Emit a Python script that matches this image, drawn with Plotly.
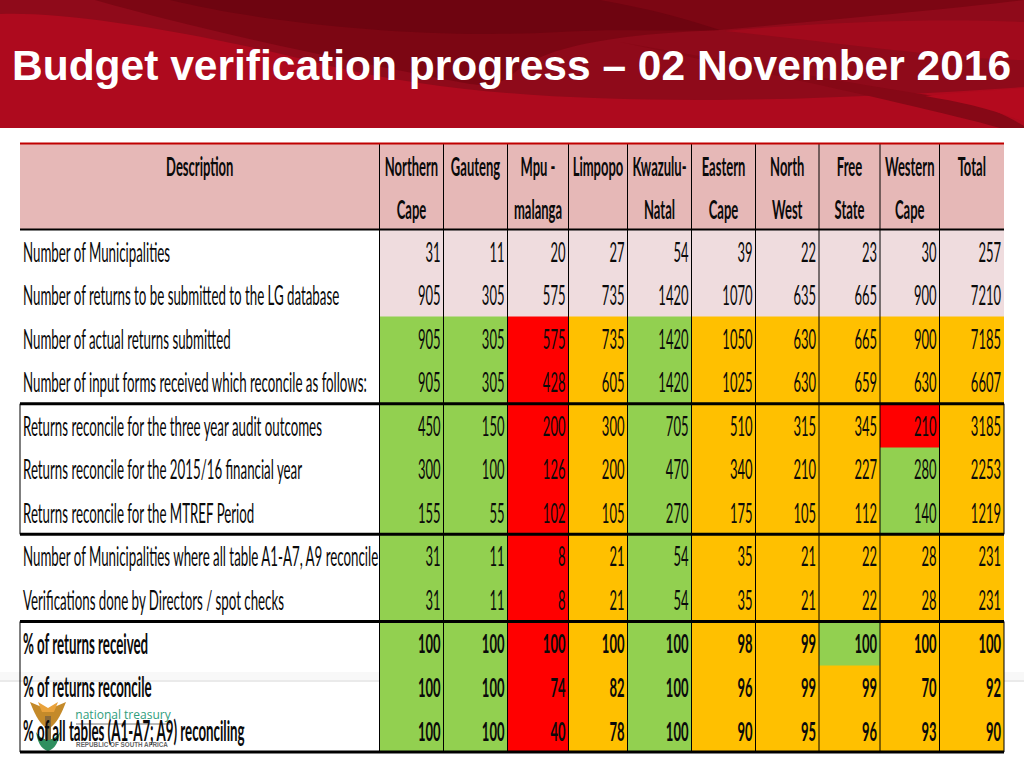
import plotly.graph_objects as go

# ---------- data ----------
title = "Budget verification progress – 02 November 2016"
header_top = ["Description", "Northern", "Gauteng", "Mpu -", "Limpopo", "Kwazulu-", "Eastern", "North", "Free", "Western", "Total"]
header_bottom = ["", "Cape", "", "malanga", "", "Natal", "Cape", "West", "State", "Cape", ""]
descriptions = [
    "Number of Municipalities",
    "Number of returns to be submitted to the LG database",
    "Number of actual returns submitted",
    "Number of input forms received which reconcile as follows:",
    "Returns reconcile for the three year audit outcomes",
    "Returns reconcile for the 2015/16 financial year",
    "Returns reconcile for the MTREF Period",
    "Number of Municipalities where all table A1-A7, A9 reconcile",
    "Verifications done by Directors / spot checks",
    "% of returns received",
    "% of returns reconcile",
    "% of all tables (A1-A7; A9) reconciling",
]
values = [
    [31, 11, 20, 27, 54, 39, 22, 23, 30, 257],
    [905, 305, 575, 735, 1420, 1070, 635, 665, 900, 7210],
    [905, 305, 575, 735, 1420, 1050, 630, 665, 900, 7185],
    [905, 305, 428, 605, 1420, 1025, 630, 659, 630, 6607],
    [450, 150, 200, 300, 705, 510, 315, 345, 210, 3185],
    [300, 100, 126, 200, 470, 340, 210, 227, 280, 2253],
    [155, 55, 102, 105, 270, 175, 105, 112, 140, 1219],
    [31, 11, 8, 21, 54, 35, 21, 22, 28, 231],
    [31, 11, 8, 21, 54, 35, 21, 22, 28, 231],
    [100, 100, 100, 100, 100, 98, 99, 100, 100, 100],
    [100, 100, 74, 82, 100, 96, 99, 99, 70, 92],
    [100, 100, 40, 78, 100, 90, 95, 96, 93, 90],
]
status = [
    "LLLLLLLLLL",
    "LLLLLLLLLL",
    "GGRAGAAAAA",
    "GGRAGAAAAA",
    "GGRAGAAARA",
    "GGRAGAAAGA",
    "GGRAGAAAGA",
    "GGRAGAAAAA",
    "GGRAGAAAAA",
    "GGRAGAAGAA",
    "GGRAGAAAAA",
    "GGRAGAAAAA",
]
bold_rows = [9, 10, 11]

# ---------- layout geometry ----------
W, H = 1024, 768
col_edges = [20, 379.5, 443.5, 507.5, 568.5, 627.5, 691.5, 755.5, 819, 880, 939.5, 1004]
table_top, header_bottom_y, row_h = 143.5, 229.5, 43.55
row_edges = [table_top, (table_top + header_bottom_y) / 2] + [header_bottom_y + i * row_h for i in range(13)]
FONT = "Lato"
BLACK = "#0a0a0a"

code = {"H": 0, "L": 1, "G": 2, "A": 3, "R": 4}
palette = ["#E6B8B7", "#EFDCDE", "#92D050", "#FFC000", "#FF0000"]
cscale = []
for i, c in enumerate(palette):
    cscale += [[i / 5, c], [(i + 1) / 5, c]]

z = [[code["H"]] * 11, [code["H"]] * 11]
for s in status:
    z.append([None] + [code[ch] for ch in s])

fig = go.Figure()

# ---------- slide decoration (under the table) ----------
shapes = []
def band(path, color):
    shapes.append(dict(type="path", path=path, fillcolor=color, line_width=0, layer="below"))

band(f"M0,0 L{W},0 L{W},128 L0,128 Z", "#AE0A1E")
band("M0,14 C60,11 190,30 330,66 C440,92 560,100 700,100 C800,100 920,94 1024,87 L1024,0 L0,0 Z", "#8F0A1A")
band("M95,0 C200,30 330,58 470,84 C540,92 470,40 720,30 C850,18 960,8 1024,0 Z", "#7C0613")
band("M170,0 C260,22 420,40 560,32 C620,28 660,32 720,30 C660,10 620,4 600,0 Z", "#6E0410")
band("M725,31 C820,22 940,18 1024,22 L1024,60 C960,60 830,42 725,31 Z", "#A10A1C")
band("M620,42 C720,60 860,85 960,100 C990,106 1010,118 1024,126 L1024,128 L1000,128 C930,108 760,72 620,42 Z", "#860816")
band("M925,96 C960,92 1000,90 1024,88 L1024,122 C990,108 960,102 925,96 Z", "#B40A1E")
band("M0,672 L1024,672 L1024,680 L0,680 Z", "#F8F8F8")
band("M0,680 L1024,680 L1024,682 L0,682 Z", "#EAEAEA")
# coat of arms of the logo
band("M30,702 C34,712 38,722 46,728 L50,714 L44,708 Z", "#C48A2A")
band("M66,702 C62,712 58,722 50,728 L46,714 L52,708 Z", "#C48A2A")
band("M38,702 L48,708 L58,702 L54,712 L42,712 Z", "#E9A23B")
band("M36,732 C38,746 44,750 48,751 C52,750 58,746 60,732 C54,742 42,742 36,732 Z", "#2F8F5F")
band("M45,716 L51,716 L51,740 L45,740 Z", "#8A6A3A")
shapes.append(dict(type="line", x0=76, x1=170, y0=724, y1=724, line=dict(color="#777777", width=1), layer="below"))

fig.add_trace(go.Heatmap(
    z=z, x=col_edges, y=row_edges, zmin=0, zmax=5, colorscale=cscale, showscale=False,
    hoverinfo="skip", connectgaps=False,
))

# logo text sits under the table text
fig.add_trace(go.Scatter(x=[123], y=[716], mode="text", text=["national treasury"],
                         textfont=dict(family="Open Sans", size=12, color="#2F9E7C"),
                         hoverinfo="skip", showlegend=False))
fig.add_trace(go.Scatter(x=[122], y=[745], mode="text", text=["<b>REPUBLIC OF SOUTH AFRICA</b>"],
                         textfont=dict(family="Liberation Sans", size=6.3, color="#666666"),
                         hoverinfo="skip", showlegend=False))

# ---------- table text ----------
centers = [(col_edges[i] + col_edges[i + 1]) / 2 for i in range(11)]
hx, hy, ht = [], [], []
for r, row in enumerate((header_top, header_bottom)):
    for c, label in enumerate(row):
        if label:
            hx.append(centers[c]); hy.append((row_edges[r] + row_edges[r + 1]) / 2 + 2.5)
            ht.append(f"<b>{label}</b>")
fig.add_trace(go.Scatter(x=hx, y=hy, mode="text", text=ht, textposition="middle center",
                         textfont=dict(family=FONT, size=13, color=BLACK),
                         hoverinfo="skip", showlegend=False))

lx, ly, lt, nx, ny, nt = [], [], [], [], [], []
for r, (d, row) in enumerate(zip(descriptions, values)):
    cy = (row_edges[r + 2] + row_edges[r + 3]) / 2 + 1.5
    b = r in bold_rows
    lx.append(col_edges[0] + 3); ly.append(cy); lt.append(f"<b>{d}</b>" if b else d)
    for c, v in enumerate(row):
        nx.append(col_edges[c + 2] - 3); ny.append(cy)
        nt.append(f"<b>{v}</b>" if b else str(v))
fig.add_trace(go.Scatter(x=lx, y=ly, mode="text", text=lt, textposition="middle right",
                         textfont=dict(family=FONT, size=13.3, color=BLACK),
                         hoverinfo="skip", showlegend=False))
fig.add_trace(go.Scatter(x=nx, y=ny, mode="text", text=nt, textposition="middle left",
                         textfont=dict(family=FONT, size=13, color=BLACK),
                         hoverinfo="skip", showlegend=False))

# ---------- rules ----------
def rule(x0, y0, x1, y1, width, color="#000000"):
    shapes.append(dict(type="line", x0=x0, y0=y0, x1=x1, y1=y1, line=dict(color=color, width=width)))

table_bottom = row_edges[14]
for x in col_edges[1:-1]:
    rule(x, table_top, x, table_bottom, 1)
rule(col_edges[0], table_top, col_edges[-1], table_top, 2, "#C00000")
rule(col_edges[0], row_edges[2], col_edges[-1], row_edges[2], 2)
for (a, b) in ((6, 9), (11, 14)):
    rule(col_edges[0], row_edges[a], col_edges[0], row_edges[b], 1)
    rule(col_edges[-1], row_edges[a], col_edges[-1], row_edges[b], 1)
for i in (6, 9, 11, 14):
    rule(col_edges[0], row_edges[i], col_edges[-1], row_edges[i], 3)

fig.update_layout(
    width=W, height=H, margin=dict(l=0, r=0, t=0, b=0),
    paper_bgcolor="white", plot_bgcolor="white", showlegend=False, shapes=shapes,
    xaxis=dict(range=[0, W], visible=False, fixedrange=True),
    yaxis=dict(range=[H, 0], visible=False, fixedrange=True),
    title=dict(text=f"<b>{title}</b>", x=12 / W, xanchor="left", y=1 - 65 / H, yanchor="middle",
               font=dict(family="Liberation Sans", size=42.5, color="white")),
)

# the source text is tall and tightly squeezed: stretch the table text vertically
post = """
document.documentElement.style.margin = '0';
document.body.style.margin = '0';
document.querySelectorAll('.textpoint text').forEach(function (el) {
  if (!/Lato/.test(el.style.fontFamily)) return;
  var b = el.getBBox(), cy = b.y + b.height / 2, t = el.getAttribute('transform') || '';
  el.setAttribute('transform', t + ' translate(0,' + cy + ') scale(1,2.1) translate(0,' + (-cy) + ')');
});
"""
fig.write_html("out.html", post_script=post, config={"displayModeBar": False})
